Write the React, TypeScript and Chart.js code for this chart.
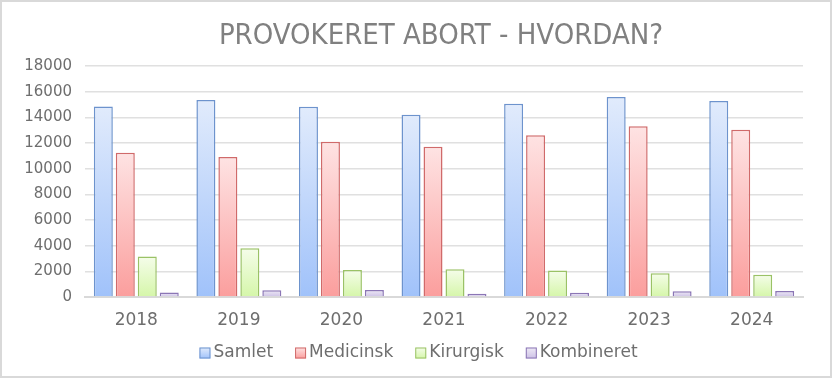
import React, { useEffect, useRef } from "react";
import { Chart, registerables } from "chart.js";

Chart.register(...registerables);

const years = ["2018", "2019", "2020", "2021", "2022", "2023", "2024"];
const seriesNames = ["Samlet", "Medicinsk", "Kirurgisk", "Kombineret"];
const samlet = [14850, 15350, 14820, 14200, 15050, 15590, 15280];
const medicinsk = [11250, 10900, 12100, 11710, 12600, 13300, 13030];
const kirurgisk = [3150, 3800, 2100, 2170, 2070, 1860, 1740];
const kombineret = [350, 530, 540, 260, 340, 440, 470];
const yTicks = [0, 2000, 4000, 6000, 8000, 10000, 12000, 14000, 16000, 18000];
const titleText = "PROVOKERET ABORT - HVORDAN?";

const FONT = "'DejaVu Sans', sans-serif";
const TITLE_FONT = "'DejaVu Sans Condensed', 'DejaVu Sans', sans-serif";
const TEXT = "#6e6e6e";

type Style = { top: string; bottom: string; border: string; mid: string };
const styles: Style[] = [
  { top: "#e1ebfc", bottom: "#a0c2fa", border: "#6d93cd", mid: "#bcd3fb" },
  { top: "#fee3e3", bottom: "#fb9e9d", border: "#d06a6a", mid: "#fcbcbc" },
  { top: "#f5fdea", bottom: "#d5f6a9", border: "#9ac266", mid: "#e4fac8" },
  { top: "#eeeaf6", bottom: "#cdc1e6", border: "#8b76b5", mid: "#ddd5ee" },
];

function grad(s: Style) {
  return (ctx: any) => {
    const chart = ctx.chart;
    const ys = chart.scales && chart.scales.y;
    if (!ys || ctx.type !== "data" || ctx.parsed == null) return s.mid;
    const t = ys.getPixelForValue(ctx.parsed.y);
    const b = ys.getPixelForValue(0);
    if (!isFinite(t) || !isFinite(b) || Math.abs(b - t) < 1) return s.mid;
    const g = chart.ctx.createLinearGradient(0, t, 0, b);
    g.addColorStop(0, s.top);
    g.addColorStop(1, s.bottom);
    return g;
  };
}

const decorPlugin = {
  id: "decor",
  afterDraw(chart: any) {
    const c = chart.ctx;
    const area = chart.chartArea;
    c.save();
    // border
    c.strokeStyle = "#d9d9d9";
    c.lineWidth = 2;
    c.strokeRect(1, 1, chart.width - 2, chart.height - 2);
    // title
    c.fillStyle = "#808080";
    c.font = `29px ${TITLE_FONT}`;
    c.textAlign = "center";
    c.textBaseline = "middle";
    c.fillText(titleText, (area.left + area.right) / 2 - 3, 36);
    // legend
    c.font = `17px ${FONT}`;
    c.textAlign = "left";
    const box = 11;
    const gapBoxText = 3;
    const gapItems = 22;
    const widths = seriesNames.map((n) => box + gapBoxText + c.measureText(n).width);
    const total = widths.reduce((a, b) => a + b, 0) + gapItems * (seriesNames.length - 1);
    let x = 418.5 - total / 2;
    const yc = 353;
    seriesNames.forEach((n, i) => {
      const s = styles[i];
      const g = c.createLinearGradient(0, yc - box / 2, 0, yc + box / 2);
      g.addColorStop(0, s.top);
      g.addColorStop(1, s.bottom);
      c.fillStyle = g;
      c.fillRect(x, yc - box / 2, box, box);
      c.strokeStyle = s.border;
      c.lineWidth = 1;
      c.strokeRect(x + 0.5, yc - box / 2 + 0.5, box - 1, box - 1);
      c.fillStyle = TEXT;
      c.fillText(n, x + box + gapBoxText, yc);
      x += widths[i] + gapItems;
    });
    c.restore();
  },
};

export default function App() {
  const ref = useRef<HTMLCanvasElement>(null);
  useEffect(() => {
    document.body.style.margin = "0";
    const series = [samlet, medicinsk, kirurgisk, kombineret];
    const chart = new Chart(ref.current!, {
      type: "bar",
      data: {
        labels: years,
        datasets: series.map((d, i) => ({
          label: seriesNames[i],
          data: d,
          backgroundColor: grad(styles[i]),
          borderColor: styles[i].border,
          borderWidth: 1.5,
          categoryPercentage: 0.857,
          barPercentage: 0.864,
        })),
      },
      plugins: [decorPlugin],
      options: {
        animation: false,
        responsive: true,
        maintainAspectRatio: false,
        layout: { padding: { left: 0, right: 29, top: 66, bottom: 0 } },
        plugins: {
          tooltip: { enabled: false },
          title: { display: false },
          legend: { display: false },
        },
        scales: {
          x: {
            afterFit: (s: any) => {
              s.height = 81;
            },
            grid: { display: false },
            border: { color: "#d9d9d9", width: 2 },
            ticks: { color: TEXT, font: { family: FONT, size: 17 }, padding: 5 },
          },
          y: {
            min: 0,
            max: 18000,
            afterFit: (s: any) => {
              s.width = 85;
            },
            afterBuildTicks: (s: any) => {
              s.ticks = yTicks.map((v) => ({ value: v }));
            },
            grid: { color: "#e0e0e0", lineWidth: 1.5, drawTicks: false },
            border: { display: false },
            ticks: {
              color: TEXT,
              font: { family: FONT, size: 15 },
              padding: 13,
              callback: (v: any) => String(v),
            },
          },
        },
      },
    });
    return () => chart.destroy();
  }, []);
  return (
    <div style={{ position: "absolute", left: 0, top: 0, width: 832, height: 378, background: "#fff" }}>
      <canvas ref={ref} />
    </div>
  );
}
